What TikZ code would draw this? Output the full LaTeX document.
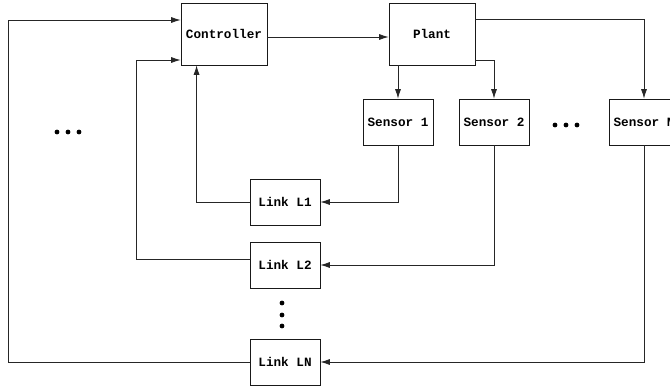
\documentclass[tikz,border=0pt]{standalone}
\usepackage{fontspec}
\setmonofont{Liberation Mono}
\usetikzlibrary{positioning, arrows.meta, calc}

\begin{document}
\begin{tikzpicture}[
    x=0.75pt, y=-0.75pt, % 以像素为单位, y 轴向下
    >={Latex[length=7pt, width=4.5pt]},
    font=\ttfamily\bfseries\fontsize{9.5}{11}\selectfont,
    % 方框样式
    block/.style={draw=black!90, line width=0.65pt, minimum width=52.5pt, minimum height=34.5pt, inner sep=0pt, align=center},
    bigblock/.style={block, minimum width=64.5pt, minimum height=46.5pt},
    arrow/.style={->, line width=0.6pt, draw=black!85},
    line/.style={-, line width=0.6pt, draw=black!85}
]

% 固定画布大小
\useasboundingbox (0,0) rectangle (670,385);

% ==========================================
% 1. 控制器与被控对象
% ==========================================
\node[bigblock] (ctrl)  at (224, 34) {Controller};
\node[bigblock] (plant) at (432, 34) {Plant};

% ==========================================
% 2. 传感器与链路
% ==========================================
\node[block] (s1) at (398, 122) {Sensor 1};
\node[block] (s2) at (494, 122) {Sensor 2};
\node[block] (sN) at (644, 122) {Sensor N};

\node[block] (l1) at (285, 202) {Link L1};
\node[block] (l2) at (285, 265) {Link L2};
\node[block] (lN) at (285, 362) {Link LN};

% ==========================================
% 3. 前向通路
% ==========================================
\draw[arrow] ([yshift=-2.25pt]ctrl.east) -- ([yshift=-2.25pt]plant.west);

% Plant 到各传感器
\draw[arrow] (plant.south -| s1.north) -- (s1.north);
\draw[arrow] ($(plant.south east)+(0,-5)$) -| (s2.north);
\draw[arrow] ($(plant.north east)+(0,17)$) -| (sN.north);

% 传感器到链路
\draw[arrow] (s1.south) |- (l1.east);
\draw[arrow] (s2.south) |- (l2.east);
\draw[arrow] (sN.south) |- (lN.east);

% ==========================================
% 4. 反馈回控制器
% ==========================================
\draw[arrow] (l1.west) -| ($(ctrl.south west)+(16,0)$);
\draw[arrow] ($(l2.west)+(0,-6)$) -- ++(-113,0) |- ($(ctrl.west)+(0,26)$);
\draw[arrow] (lN.west) -- ++(-241,0) |- ($(ctrl.west)+(0,-14)$);

% 省略号
\foreach \x in {57, 68, 79} \fill (\x, 132) circle (1.8pt);
\foreach \x in {555, 566, 577} \fill (\x, 125) circle (1.8pt);
\foreach \y in {303, 315, 326} \fill (282, \y) circle (1.8pt);

\end{tikzpicture}
\end{document}
